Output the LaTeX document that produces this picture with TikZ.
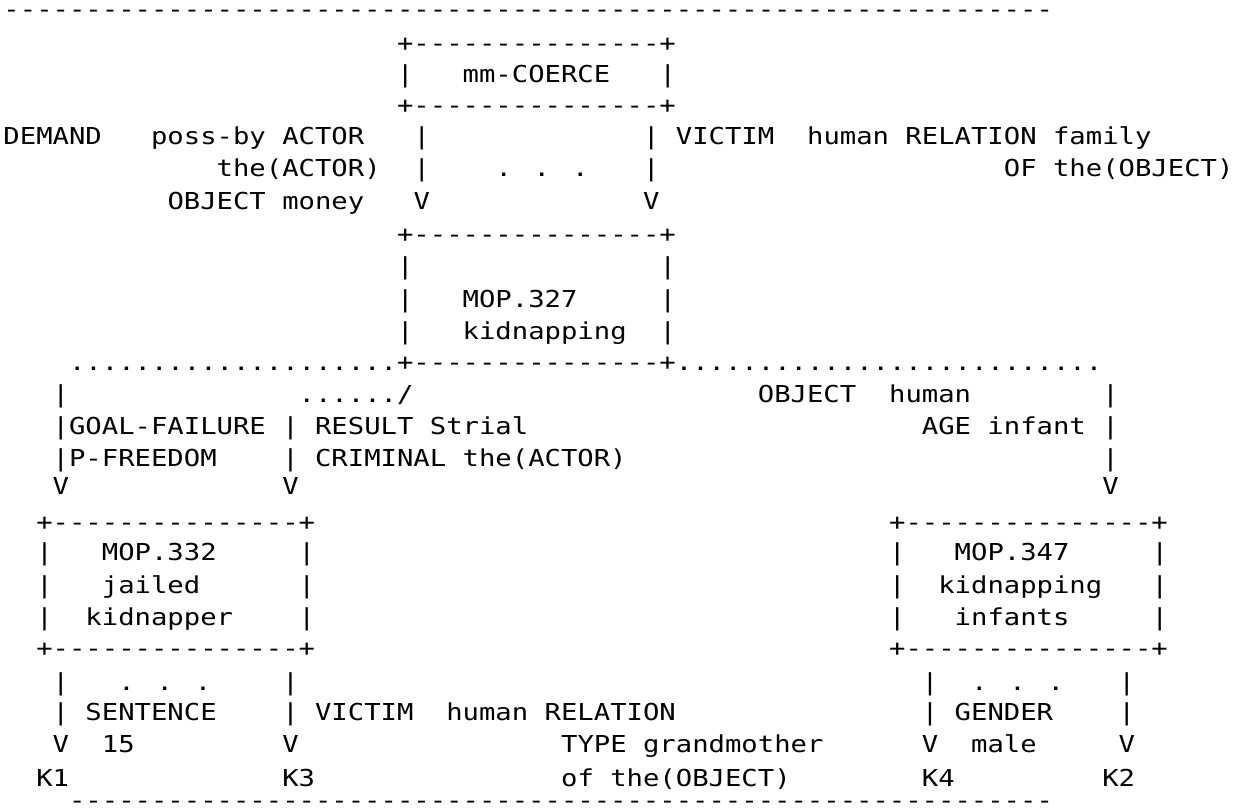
\documentclass[tikz,border=0pt]{standalone}
\usepackage{fontspec}
\newfontfamily\asciifont[FakeStretch=1.168,Ligatures=TeXOff]{DejaVu Sans Mono}
\newcommand{\repchar}[2]{\foreach \k in {1,...,#1}{#2}}
\newcommand{\boxline}{+\repchar{15}{-}+}

\begin{document}
\begin{tikzpicture}[
  x=8.2pt, y=-0.5pt,
  txt/.style={anchor=mid west, inner sep=0pt, outer sep=0pt,
              font=\asciifont\fontsize{11.66pt}{14pt}\selectfont}
]
  \useasboundingbox[fill=white] (-0.2134,0) rectangle (75.884,811);

  \node[txt] (rule-top) at (0,13) {\repchar{64}{-}};

  % mm-COERCE
  \node[txt] (coerce-top) at (24,47)  {\boxline};
  \node[txt] (coerce-l)   at (24,78)  {|};
  \node[txt] (coerce)     at (28,78)  {mm-COERCE};
  \node[txt] (coerce-r)   at (40,78)  {|};
  \node[txt] (coerce-bot) at (24,109) {\boxline};

  \node[txt] (demand)    at (0,140)  {DEMAND};
  \node[txt] (poss-by)   at (9,140)  {poss-by ACTOR};
  \node[txt] (the-actor) at (13,172) {the(ACTOR)};
  \node[txt] (money)     at (10,205) {OBJECT money};
  \node[txt] (up-l1) at (25,140) {|};
  \node[txt] (up-l2) at (25,172) {|};
  \node[txt] (up-l3) at (25,205) {V};
  \node[txt] (up-gap) at (30,172) {. . .};
  \node[txt] (up-r1) at (39,140) {|};
  \node[txt] (up-r2) at (39,172) {|};
  \node[txt] (up-r3) at (39,205) {V};
  \node[txt] (victim)    at (41,140) {VICTIM};
  \node[txt] (family)    at (49,140) {human RELATION family};
  \node[txt] (of-object) at (61,172) {OF the(OBJECT)};

  % MOP.327
  \node[txt] (mop327-top) at (24,238) {\boxline};
  \node[txt] (mop327-l1) at (24,270) {|};
  \node[txt] (mop327-r1) at (40,270) {|};
  \node[txt] (mop327-l2) at (24,303) {|};
  \node[txt] (mop327)    at (28,303) {MOP.327};
  \node[txt] (mop327-r2) at (40,303) {|};
  \node[txt] (mop327-l3) at (24,335) {|};
  \node[txt] (mop327-name) at (28,335) {kidnapping};
  \node[txt] (mop327-r3) at (40,335) {|};
  \node[txt] (spec-l)     at (4,366)  {\repchar{20}{.}};
  \node[txt] (mop327-bot) at (24,366) {\boxline};
  \node[txt] (spec-r)     at (41,366) {\repchar{26}{.}};

  % specializations
  \node[txt] (fail-1) at (3,398)  {|};
  \node[txt] (fail-2) at (3,430)  {|GOAL-FAILURE};
  \node[txt] (fail-3) at (3,462)  {|P-FREEDOM};
  \node[txt] (fail-4) at (3,490)  {V};
  \node[txt] (result-0) at (18,398) {....../};
  \node[txt] (result-1) at (17,430) {|};
  \node[txt] (result-2) at (17,462) {|};
  \node[txt] (result-3) at (17,490) {V};
  \node[txt] (trial)    at (19,430) {RESULT Strial};
  \node[txt] (criminal) at (19,462) {CRIMINAL the(ACTOR)};
  \node[txt] (object)   at (46,398) {OBJECT};
  \node[txt] (human)    at (54,398) {human};
  \node[txt] (infant)   at (56,430) {AGE infant};
  \node[txt] (age-1) at (67,398) {|};
  \node[txt] (age-2) at (67,430) {|};
  \node[txt] (age-3) at (67,462) {|};
  \node[txt] (age-4) at (67,490) {V};

  % MOP.332
  \node[txt] (mop332-top) at (2,526) {\boxline};
  \node[txt] (mop332-l1) at (2,556)  {|};
  \node[txt] (mop332)    at (6,556)  {MOP.332};
  \node[txt] (mop332-r1) at (18,556) {|};
  \node[txt] (mop332-l2) at (2,589)  {|};
  \node[txt] (mop332-a)  at (6,589)  {jailed};
  \node[txt] (mop332-r2) at (18,589) {|};
  \node[txt] (mop332-l3) at (2,621)  {|};
  \node[txt] (mop332-b)  at (5,621)  {kidnapper};
  \node[txt] (mop332-r3) at (18,621) {|};
  \node[txt] (mop332-bot) at (2,652) {\boxline};

  % MOP.347
  \node[txt] (mop347-top) at (54,526) {\boxline};
  \node[txt] (mop347-l1) at (54,556) {|};
  \node[txt] (mop347)    at (58,556) {MOP.347};
  \node[txt] (mop347-r1) at (70,556) {|};
  \node[txt] (mop347-l2) at (54,589) {|};
  \node[txt] (mop347-a)  at (57,589) {kidnapping};
  \node[txt] (mop347-r2) at (70,589) {|};
  \node[txt] (mop347-l3) at (54,621) {|};
  \node[txt] (mop347-b)  at (58,621) {infants};
  \node[txt] (mop347-r3) at (70,621) {|};
  \node[txt] (mop347-bot) at (54,652) {\boxline};

  % instances
  \node[txt] (k1-1) at (3,686) {|};
  \node[txt] (k1-2) at (3,716) {|};
  \node[txt] (k1-3) at (3,748) {V};
  \node[txt] (k1)   at (2,782) {K1};
  \node[txt] (k1-gap)   at (7,686)  {. . .};
  \node[txt] (sentence) at (5,716)  {SENTENCE};
  \node[txt] (years)    at (6,748)  {15};
  \node[txt] (k3-1) at (17,686) {|};
  \node[txt] (k3-2) at (17,716) {|};
  \node[txt] (k3-3) at (17,748) {V};
  \node[txt] (k3)   at (17,782) {K3};
  \node[txt] (victim-2)  at (19,716) {VICTIM};
  \node[txt] (relation)  at (27,716) {human RELATION};
  \node[txt] (type)      at (34,748) {TYPE grandmother};
  \node[txt] (of-object-2) at (34,782) {of the(OBJECT)};
  \node[txt] (k4-1) at (56,686) {|};
  \node[txt] (k4-2) at (56,716) {|};
  \node[txt] (k4-3) at (56,748) {V};
  \node[txt] (k4)   at (56,782) {K4};
  \node[txt] (k4-gap) at (59,686) {. . .};
  \node[txt] (gender) at (58,716) {GENDER};
  \node[txt] (male)   at (59,748) {male};
  \node[txt] (k2-1) at (68,686) {|};
  \node[txt] (k2-2) at (68,716) {|};
  \node[txt] (k2-3) at (68,748) {V};
  \node[txt] (k2)   at (67,782) {K2};

  \node[txt] (rule-bot) at (4,804) {\repchar{60}{-}};
\end{tikzpicture}
\end{document}
